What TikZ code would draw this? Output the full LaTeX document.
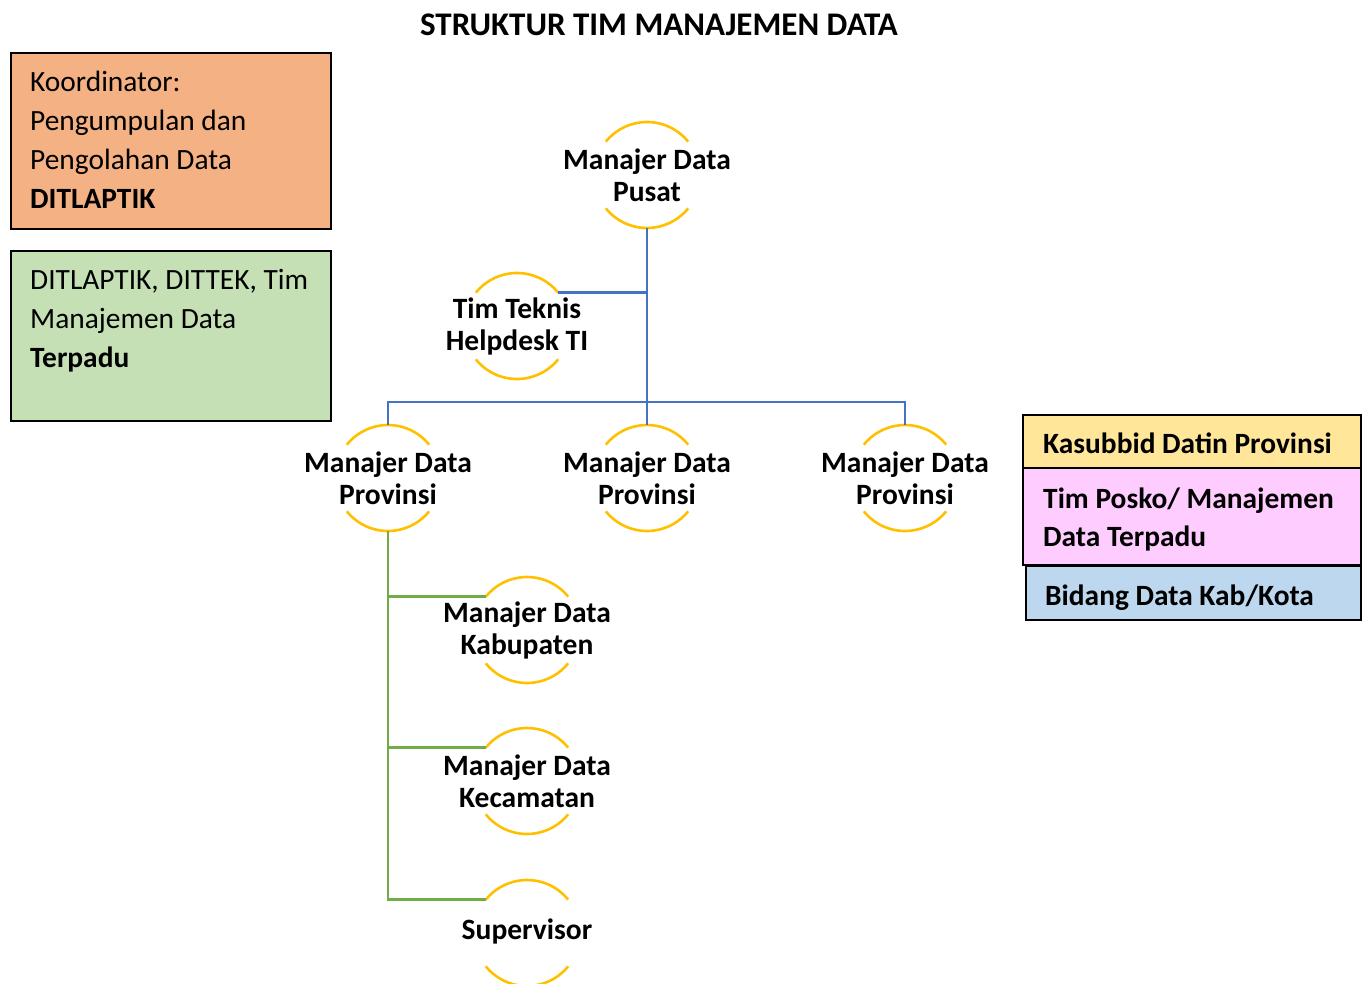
\documentclass[tikz,border=0pt]{standalone}
\usepackage{fontspec}
\setmainfont{Carlito}
\definecolor{ringgold}{HTML}{FFC000}
\definecolor{linkblue}{HTML}{4472C4}
\definecolor{linkgreen}{HTML}{70AD47}
\definecolor{boxorange}{HTML}{F4B183}
\definecolor{boxgreen}{HTML}{C5E0B4}
\definecolor{keyyellow}{HTML}{FFE699}
\definecolor{keypink}{HTML}{FFCCFF}
\definecolor{keyblue}{HTML}{BDD7EE}
\tikzset{
  ring/.style={circle, minimum size=106pt, inner sep=0pt, outer sep=0pt},
  ringarc/.style={draw=ringgold, line width=2.6pt},
  rolelabel/.style={align=center, font=\fontsize{29.5}{32}\selectfont\bfseries, inner sep=0pt},
  bluelink/.style={draw=linkblue, line width=2.8pt},
  greenlink/.style={draw=linkgreen, line width=2.8pt},
  panel/.style={draw=black, line width=1.8pt, anchor=north west, inner sep=0pt},
  % multi-line texts are placed by the baseline of their last line
  paneltext/.style={anchor=base west, align=left, inner sep=0pt,
    font=\fontsize{29.4}{39}\selectfont},
  keytext/.style={anchor=base west, align=left, inner sep=0pt,
    font=\fontsize{29.4}{38}\selectfont\bfseries},
}
% a role: ring outline split into an upper and a lower arc
\newcommand{\rolering}[1]{%
  \draw[ringarc] (#1.39) arc[start angle=39, end angle=141, radius=53pt];
  \draw[ringarc] (#1.219) arc[start angle=219, end angle=321, radius=53pt];}
\begin{document}
\begin{tikzpicture}[x=1pt, y=1pt]
\useasboundingbox (0,0) rectangle (1365,-983);

% title
\node[font=\fontsize{33}{36}\selectfont\bfseries, inner sep=0pt, anchor=base] (title) at (659,-35) {STRUKTUR TIM MANAJEMEN DATA};

% side panels
\node[panel, fill=boxorange, minimum width=320pt, minimum height=176pt] (koord) at (10,-52) {};
\node[paneltext] (koordtxt) at (30,-208) {Koordinator:\\Pengumpulan dan\\Pengolahan Data\\\textbf{DITLAPTIK}};
\node[panel, fill=boxgreen, minimum width=320pt, minimum height=170pt] (terpadu) at (10,-250) {};
\node[paneltext] (terpadutxt) at (30,-367) {DITLAPTIK, DITTEK, Tim\\Manajemen Data\\\textbf{Terpadu}};

% legend
\node[panel, fill=keyyellow, minimum width=338pt, minimum height=53pt] (keyprov) at (1022,-414) {};
\node[panel, fill=keypink, minimum width=338pt, minimum height=97pt] (keyposko) at (1022,-467) {};
\node[panel, fill=keyblue, minimum width=335pt, minimum height=54pt] (keykab) at (1025,-565) {};
\node[keytext] (keyprovtxt) at (1043,-453) {Kasubbid Datin Provinsi};
\node[keytext] (keyposkotxt) at (1043,-546) {Tim Posko/ Manajemen\\Data Terpadu};
\node[keytext] (keykabtxt) at (1045,-605) {Bidang Data Kab/Kota};

% roles
\node[ring] (pusat) at (647,-175) {};
\node[ring] (teknis) at (517,-326) {};
\node[ring] (prov1) at (388,-478) {};
\node[ring] (prov2) at (647,-478) {};
\node[ring] (prov3) at (905,-478) {};
\node[ring] (kab) at (527,-630) {};
\node[ring] (kec) at (527,-781) {};
\node[ring] (sup) at (527,-933) {};
\foreach \r in {pusat,teknis,prov1,prov2,prov3,kab,kec,sup}{\rolering{\r}}

\node[rolelabel] (pusattxt) at (pusat) {Manajer Data\\Pusat};
\node[rolelabel] (teknistxt) at (teknis) {Tim Teknis\\Helpdesk TI};
\node[rolelabel] (prov1txt) at (prov1) {Manajer Data\\Provinsi};
\node[rolelabel] (prov2txt) at (prov2) {Manajer Data\\Provinsi};
\node[rolelabel] (prov3txt) at (prov3) {Manajer Data\\Provinsi};
\node[rolelabel] (kabtxt) at (kab) {Manajer Data\\Kabupaten};
\node[rolelabel] (kectxt) at (kec) {Manajer Data\\Kecamatan};
\node[rolelabel] (suptxt) at ([yshift=2pt]sup) {Supervisor};

% national links
\coordinate (bus) at (647,-402);
\draw[bluelink] (pusat.south) -- (bus);
\draw[bluelink] (teknis.39) -- (teknis.39 -| pusat.south);
\draw[bluelink] (prov1.north) |- (bus) -| (prov3.north);
\draw[bluelink] (bus) -- (prov2.north);

% provincial links
\draw[greenlink] (prov1.south) |- (sup.141);
\draw[greenlink] (kab.141) -- (kab.141 -| prov1.south);
\draw[greenlink] (kec.141) -- (kec.141 -| prov1.south);
\end{tikzpicture}
\end{document}
